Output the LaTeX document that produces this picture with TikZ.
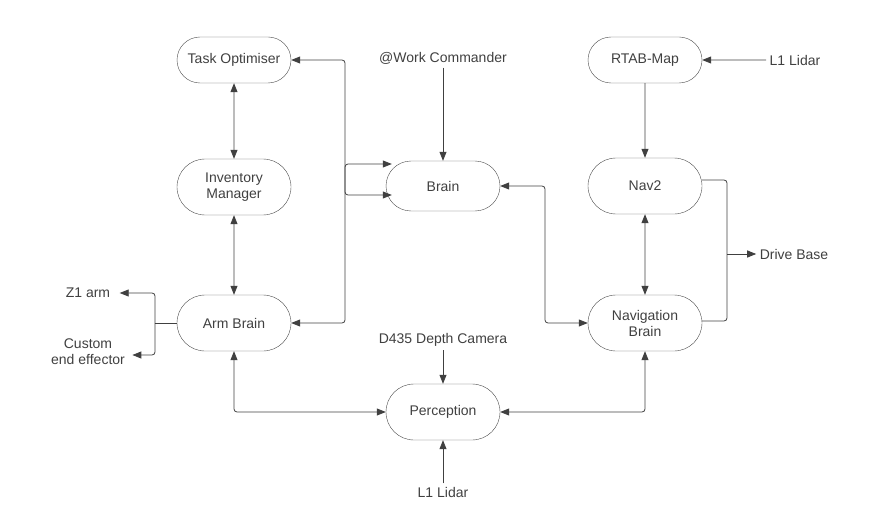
\documentclass[tikz,border=0pt]{standalone}
\usepackage{fontspec}
\setmainfont{Liberation Sans}
\usetikzlibrary{positioning,arrows.meta,shapes.misc}
\begin{document}
\begin{tikzpicture}[x=1pt, y=-1pt, align=center,
    font=\fontsize{14}{16}\selectfont, text=black!75,
    block/.style={draw=black!70, rounded rectangle, minimum width=118pt, minimum height=46pt, inner sep=2pt},
    tall/.style={block, minimum height=56pt},
    link/.style={draw=black!75, line width=0.8pt, rounded corners=3pt, -{Triangle[length=9pt,width=7pt]}},
    both/.style={link, {Triangle[length=9pt,width=7pt]}-{Triangle[length=9pt,width=7pt]}}]
    \useasboundingbox (0,0) rectangle (873,524);

    \node(task) [block] at (234,60)  {Task Optimiser};
    \node(inv)  [tall]  at (234,187) {Inventory\\Manager};
    \node(arm)  [tall]  at (234,323) {Arm Brain};
    \node(brain)[block, minimum height=50pt] at (443,186) {Brain};
    \node(perc) [tall]  at (443,412) {Perception};
    \node(rtab) [block] at (645,60)  {RTAB-Map};
    \node(nav)  [tall]  at (645,186) {Nav2};
    \node(navb) [tall]  at (645,323) {Navigation\\Brain};

    \node(cmd)  at (443,58)  {@Work Commander};
    \node(lidt) at (795,60)  {L1 Lidar};
    \node(cam)  at (443,340) {D435 Depth Camera};
    \node(lidb) at (443,492) {L1 Lidar};
    \node(z1)   at (88,293)  {Z1 arm};
    \node(eff)  at (88,352)  {Custom\\end effector};
    \node(drive) at (794,254) {Drive Base};

    \coordinate(split) at (155,323);
    \coordinate(join) at (727,254);

    \draw [both] (task.east) -- (345,60) |- ([xshift=6pt,yshift=-9pt]brain.west);
    \draw [both] (task) -- (inv);
    \draw [both] (inv) -- (arm);
    \draw [both] (arm.east) -- (345,323) |- ([xshift=6pt,yshift=22pt]brain.west);
    \draw [link] (cmd) -- (brain);
    \draw [both] (brain.east) -- (545,186) |- (navb.west);
    \draw [link] (lidt) -- (rtab);
    \draw [link] (rtab) -- (nav);
    \draw [both] (nav) -- (navb);
    \draw [both] (arm.south) |- (perc.west);
    \draw [both] (perc.east) -| (navb.south);
    \draw [link] (cam) -- (perc);
    \draw [link] (lidb) -- (perc);

    \draw [draw=black!75, line width=0.8pt] (arm.west) -- (split);
    \draw [link] (split) |- ([xshift=6pt]z1.east);
    \draw [link] (split) |- ([xshift=4pt]eff.east |- 355,355);
    \draw [draw=black!75, line width=0.8pt, rounded corners=3pt] ([yshift=6pt]nav.east) -| (join) |- ([yshift=2pt]navb.east);
    \draw [link] (join) -- (drive);
\end{tikzpicture}
\end{document}
